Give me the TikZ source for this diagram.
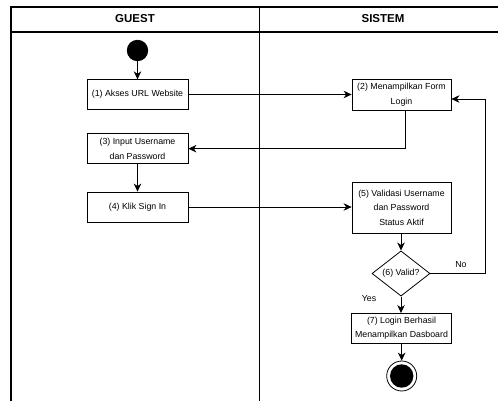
\documentclass[tikz,border=0pt]{standalone}
\usepackage{fontspec}
\setmainfont{Liberation Sans}
\usetikzlibrary{arrows.meta,shapes.geometric}
\begin{document}
\begin{tikzpicture}[x=1pt,y=-1pt,
  lane/.style={line width=1.2pt},
  actbox/.style={draw, line width=0.8pt, rectangle, align=center, inner sep=0pt,
    font=\fontsize{8.8}{14.5}\selectfont},
  decbox/.style={draw, line width=0.8pt, diamond, inner sep=0pt,
    minimum width=58pt, minimum height=38pt, font=\fontsize{8.8}{10}\selectfont},
  flow/.style={line width=0.8pt, -{Stealth[length=8pt,width=7.5pt,inset=2.5pt]}},
  link/.style={line width=0.8pt},
  hdr/.style={font=\fontsize{11.5}{13}\selectfont\bfseries},
  guard/.style={font=\fontsize{8.8}{10}\selectfont}]
\useasboundingbox (0,0) rectangle (498,401);
\fill[white] (0,0) rectangle (498,401);

% swimlane frame
\begin{scope}
\clip (0,0) rectangle (498,401);
\draw[lane] (11,420) -- (11,7) -- (507,7) -- (507,420);
\draw[lane] (11,32) -- (507,32);
\draw[lane] (259.5,7) -- (259.5,420);
\end{scope}
\node[hdr] (hguest) at (135,18.5) {GUEST};
\node[hdr] (hsistem) at (383,18.5) {SISTEM};

% GUEST lane
\node[circle, fill=black, minimum size=21.4pt, inner sep=0pt] (start) at (137.5,50.5) {};
\node[actbox, minimum width=101pt, minimum height=29.5pt] (b1) at (137.5,94.5) {(1) Akses URL Website};
\node[actbox, minimum width=101pt, minimum height=30pt] (b3) at (137.5,148.7) {(3) Input Username\\dan Password};
\node[actbox, minimum width=101pt, minimum height=30pt] (b4) at (137.5,207) {(4) Klik Sign In};

% SISTEM lane
\node[actbox, minimum width=99pt, minimum height=31pt] (b2) at (401.5,94.5) {(2) Menampilkan Form\\Login};
\node[actbox, minimum width=99pt, minimum height=51pt] (b5) at (401.5,207.5) {(5) Validasi Username\\dan Password\\Status Aktif};
\node[decbox] (dia) at (401,273.5) {(6) Valid?};
\node[actbox, minimum width=99.5pt, minimum height=29.5pt] (b7) at (401.5,328.2) {(7) Login Berhasil\\Menampilkan Dasboard};
\node[circle, draw, line width=0.8pt, minimum size=30pt, inner sep=0pt] (endo) at (401.7,376) {};
\node[circle, fill=black, minimum size=23.4pt, inner sep=0pt] (endi) at (401.7,376) {};
\coordinate (ret) at (485.7,273.5);

% flows
\draw[flow] (start) -- (b1);
\draw[flow] (b1) -- (b2);
\draw[flow] ([xshift=4pt]b2.south) |- (b3.east);
\draw[flow] (b3) -- (b4);
\draw[flow] (b4) -- (b5.west |- b4.east);
\draw[flow] (b5.south -| dia.north) -- (dia.north);
\draw[link] (dia.east) -- (ret);
\draw[flow] (ret) |- ([yshift=-4.5pt]b2.east);
\draw[flow] (dia.south) -- (b7.north -| dia.south);
\draw[flow] (b7.south -| endo.north) -- (endo.north);

% guards
\node[guard] (gno) at (461,264.5) {No};
\node[guard] (gyes) at (369,299) {Yes};
\end{tikzpicture}
\end{document}
